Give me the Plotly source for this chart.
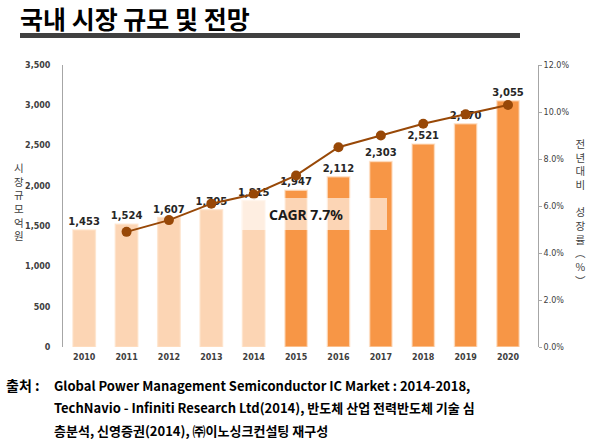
import plotly.graph_objects as go

years = ["2010", "2011", "2012", "2013", "2014", "2015", "2016", "2017", "2018", "2019", "2020"]
market_size = [1453, 1524, 1607, 1705, 1815, 1947, 2112, 2303, 2521, 2770, 3055]
growth_years = ["2011", "2012", "2013", "2014", "2015", "2016", "2017", "2018", "2019", "2020"]
growth_rate = [4.9, 5.4, 6.1, 6.5, 7.3, 8.5, 9.0, 9.5, 9.9, 10.3]
bar_colors = ["#FCD5B4"] * 5 + ["#F79646"] * 6
left_ticks = [0, 500, 1000, 1500, 2000, 2500, 3000, 3500]
right_ticks = [0, 2, 4, 6, 8, 10, 12]
right_tick_text = ["0.0%", "2.0%", "4.0%", "6.0%", "8.0%", "10.0%", "12.0%"]

W, H = 613, 442
L, R, T, B = 63, 538, 65, 347

def px(x):
    return (x - L) / (R - L)

def py(y):
    return (B - y) / (B - T)

fig = go.Figure()
fig.add_trace(go.Bar(
    x=years, y=market_size,
    marker=dict(color=bar_colors, line=dict(color="rgba(253,225,200,0.7)", width=1.5)),
    text=[f"{v:,}" for v in market_size], textposition="outside", constraintext="none",
    textfont=dict(family="DejaVu Sans", size=10, color="#262626", weight="bold"),
    cliponaxis=False, showlegend=False,
))
fig.add_trace(go.Scatter(
    x=growth_years, y=growth_rate, yaxis="y2", mode="lines+markers",
    line=dict(color="#984807", width=2),
    marker=dict(color="#984807", size=10),
    showlegend=False,
))

tickfont = dict(family="DejaVu Sans", size=8, color="#404040", weight="bold")
fig.update_layout(
    width=W, height=H,
    margin=dict(l=L, r=W - R, t=T, b=H - B, pad=0, autoexpand=False),
    paper_bgcolor="white", plot_bgcolor="white",
    bargap=0.47,
    xaxis=dict(type="category", tickfont=tickfont, showgrid=False, showline=False,
               ticks="", ticklabelstandoff=4, automargin=False),
    yaxis=dict(range=[0, 3500], tickvals=left_ticks, tickformat=",", tickfont=tickfont,
               showgrid=False, showline=True, linecolor="#A6A6A6", linewidth=1,
               ticks="", ticklabelstandoff=10, zeroline=False, automargin=False),
    yaxis2=dict(range=[0, 12], tickvals=right_ticks, ticktext=right_tick_text,
                overlaying="y", side="right", tickfont=dict(family="DejaVu Sans", size=8, color="#404040"),
                showgrid=False, showline=True, linecolor="#A6A6A6", linewidth=1,
                ticks="outside", ticklen=3, tickcolor="#A6A6A6", zeroline=False, automargin=False),
)

# title and rule
fig.add_annotation(text="<b>국내 시장 규모 및 전망</b>", xref="paper", yref="paper",
                   x=px(18), y=py(18), xanchor="left", yanchor="middle", showarrow=False,
                   font=dict(family="Noto Sans CJK KR", size=25, color="#000000"))
fig.add_shape(type="rect", xref="paper", yref="paper", x0=px(20), x1=px(520), y0=py(38), y1=py(33),
              fillcolor="#404040", line=dict(width=0))

# CAGR box
fig.add_shape(type="rect", xref="paper", yref="paper", x0=px(242), x1=px(387), y0=py(230), y1=py(198),
              fillcolor="rgba(255,255,255,0.6)", line=dict(width=0), layer="above")
fig.add_annotation(text="<b>CAGR 7.7%</b>", xref="paper", yref="paper", x=px(306), y=py(214),
                   showarrow=False, font=dict(family="Noto Sans", size=14, color="#1a1a1a"))

# axis titles (vertical stacked)
fig.add_annotation(text="<br>".join(list("시장규모억원")), xref="paper", yref="paper",
                   x=px(12), y=py(201), showarrow=False,
                   font=dict(family="Noto Sans CJK KR", size=10.5, color="#404040"))
fig.add_annotation(text="<br>".join(["전", "년", "대", "비", " ", "성", "장", "률", "︵", "%", "︶"]),
                   xref="paper", yref="paper", x=px(588), y=py(212), showarrow=False,
                   font=dict(family="Noto Sans CJK KR", size=10.5, color="#404040"))

# source footer
src_font = dict(family="Noto Sans CJK KR", size=13, color="#000000")
fig.add_annotation(text="<b>출처 :</b>", xref="paper", yref="paper", x=px(4), y=py(385),
                   xanchor="left", yanchor="middle", showarrow=False,
                   font=dict(family="Noto Sans CJK KR", size=14, color="#000000"))
lines = [
    "Global Power Management Semiconductor IC Market : 2014-2018,",
    "TechNavio - Infiniti Research Ltd(2014), 반도체 산업 전력반도체 기술 심",
    "층분석, 신영증권(2014), ㈜이노싱크컨설팅 재구성",
]
for i, ln in enumerate(lines):
    fig.add_annotation(text=f"<b>{ln}</b>", xref="paper", yref="paper", x=px(52), y=py(385 + 22.5 * i),
                       xanchor="left", yanchor="middle", showarrow=False, font=src_font)

fig.write_html("out.html", config={"displayModeBar": False},
               post_script="document.body.style.margin='0';document.body.style.overflow='hidden';")
